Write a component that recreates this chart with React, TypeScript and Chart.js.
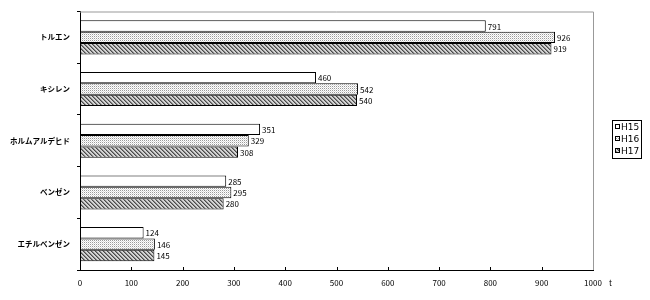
import React, { useEffect, useRef } from "react";
import { Chart, registerables } from "chart.js";

Chart.register(...registerables);

const categories = ["トルエン", "キシレン", "ホルムアルデヒド", "ベンゼン", "エチルベンゼン"];
const seriesLabels = ["H15", "H16", "H17"];
const h15 = [791, 460, 351, 285, 124];
const h16 = [926, 542, 329, 295, 146];
const h17 = [919, 540, 308, 280, 145];
const xTicks = [0, 100, 200, 300, 400, 500, 600, 700, 800, 900, 1000];
const unitLabel = "t";

function makeDotPattern(ctx: CanvasRenderingContext2D) {
  const c = document.createElement("canvas");
  c.width = 2;
  c.height = 2;
  const g = c.getContext("2d")!;
  g.fillStyle = "#ffffff";
  g.fillRect(0, 0, 2, 2);
  g.fillStyle = "#9a9a9a";
  g.fillRect(0, 0, 1, 1);
  g.fillStyle = "#dcdcdc";
  g.fillRect(1, 1, 1, 1);
  return ctx.createPattern(c, "repeat")!;
}

function makeHatchPattern(ctx: CanvasRenderingContext2D) {
  const c = document.createElement("canvas");
  c.width = 4;
  c.height = 4;
  const g = c.getContext("2d")!;
  g.fillStyle = "#d4d4d4";
  g.fillRect(0, 0, 4, 4);
  g.fillStyle = "#4a4a4a";
  for (let i = 0; i < 4; i++) {
    g.fillRect(i, i, 1, 1);
  }
  g.fillStyle = "#8a8a8a";
  for (let i = 0; i < 4; i++) {
    g.fillRect((i + 1) % 4, i, 1, 1);
  }
  return ctx.createPattern(c, "repeat")!;
}

const FONT = "'Noto Sans CJK JP', 'DejaVu Sans', sans-serif";

export default function App() {
  const ref = useRef<HTMLCanvasElement | null>(null);
  useEffect(() => {
    const canvas = ref.current!;
    const ctx = canvas.getContext("2d")!;
    const fills = ["#ffffff", makeDotPattern(ctx), makeHatchPattern(ctx)];
    const data = [h15, h16, h17];

    const overlay = {
      id: "overlay",
      afterDatasetsDraw(chart: any) {
        const c = chart.ctx as CanvasRenderingContext2D;
        const area = chart.chartArea;
        const xs = chart.scales.x;
        c.save();
        c.fillStyle = "#000";
        c.font = `8px ${FONT}`;
        c.textAlign = "left";
        c.textBaseline = "middle";
        chart.data.datasets.forEach((ds: any, di: number) => {
          const meta = chart.getDatasetMeta(di);
          meta.data.forEach((bar: any, i: number) => {
            c.fillText(String(ds.data[i]), bar.x + 2, bar.y + 0.5);
          });
        });
        c.strokeStyle = "#999";
        c.lineWidth = 1;
        c.beginPath();
        c.moveTo(area.left, area.top + 0.5);
        c.lineTo(area.right + 0.5, area.top + 0.5);
        c.lineTo(area.right + 0.5, area.bottom);
        c.stroke();
        c.strokeStyle = "#000";
        c.beginPath();
        xTicks.forEach((v) => {
          if (v === 0 || v === 1000) return;
          const px = Math.round(xs.getPixelForValue(v)) + 0.5;
          c.moveTo(px, area.bottom);
          c.lineTo(px, area.bottom - 3);
        });
        c.stroke();
        c.font = `8px ${FONT}`;
        c.textAlign = "left";
        c.textBaseline = "middle";
        c.fillText(unitLabel, xs.getPixelForValue(1000) + 16, area.bottom + 13);
        const lx = 612, ly = 120, lw = 29, lh = 38;
        c.fillStyle = "#fff";
        c.fillRect(lx, ly, lw, lh);
        c.strokeStyle = "#000";
        c.strokeRect(lx + 0.5, ly + 0.5, lw, lh);
        c.font = `9px 'DejaVu Sans', sans-serif`;
        seriesLabels.forEach((lab, i) => {
          const cy = ly + 7 + i * 12;
          c.fillStyle = fills[i] as any;
          c.fillRect(lx + 3, cy - 3, 5, 5);
          c.strokeStyle = "#000";
          c.strokeRect(lx + 3.5, cy - 2.5, 4, 4);
          c.fillStyle = "#000";
          c.textAlign = "left";
          c.textBaseline = "middle";
          c.fillText(lab, lx + 9, cy + 0.5);
        });
        c.restore();
      },
    };

    const chart = new Chart(canvas, {
      type: "bar",
      data: {
        labels: categories,
        datasets: seriesLabels.map((lab, i) => ({
          label: lab,
          data: data[i],
          backgroundColor: fills[i] as any,
          borderColor: "#000",
          borderWidth: 1,
          borderSkipped: false,
          categoryPercentage: 0.66,
          barPercentage: 1,
        })),
      },
      options: {
        indexAxis: "y",
        responsive: false,
        animation: false,
        layout: { padding: { top: 11, right: 57, left: 0, bottom: 0 } },
        plugins: { legend: { display: false }, tooltip: { enabled: false } },
        scales: {
          x: {
            min: 0,
            max: 1000,
            afterFit: (s: any) => {
              s.height = 30;
            },
            afterBuildTicks: (s: any) => {
              s.ticks = xTicks.map((v) => ({ value: v }));
            },
            grid: { display: false, drawTicks: false },
            border: { display: true, color: "#000", width: 1 },
            ticks: {
              padding: 8,
              color: "#000",
              font: { family: FONT, size: 8 },
              maxRotation: 0,
              autoSkip: false,
              callback: (v: any) => String(v),
            },
          },
          y: {
            afterFit: (s: any) => {
              s.width = 80;
            },
            grid: {
              offset: true,
              drawOnChartArea: false,
              drawTicks: true,
              tickLength: 3,
              color: "#000",
            },
            border: { display: true, color: "#000", width: 1 },
            ticks: {
              padding: 7,
              color: "#000",
              font: { family: FONT, size: 7.5, weight: "bold" },
            },
          },
        },
      },
      plugins: [overlay],
    });
    return () => chart.destroy();
  }, []);
  return (
    <div style={{ position: "absolute", left: 0, top: 0, width: 650, height: 300, background: "#fff" }}>
      <canvas ref={ref} width={650} height={300} />
    </div>
  );
}
